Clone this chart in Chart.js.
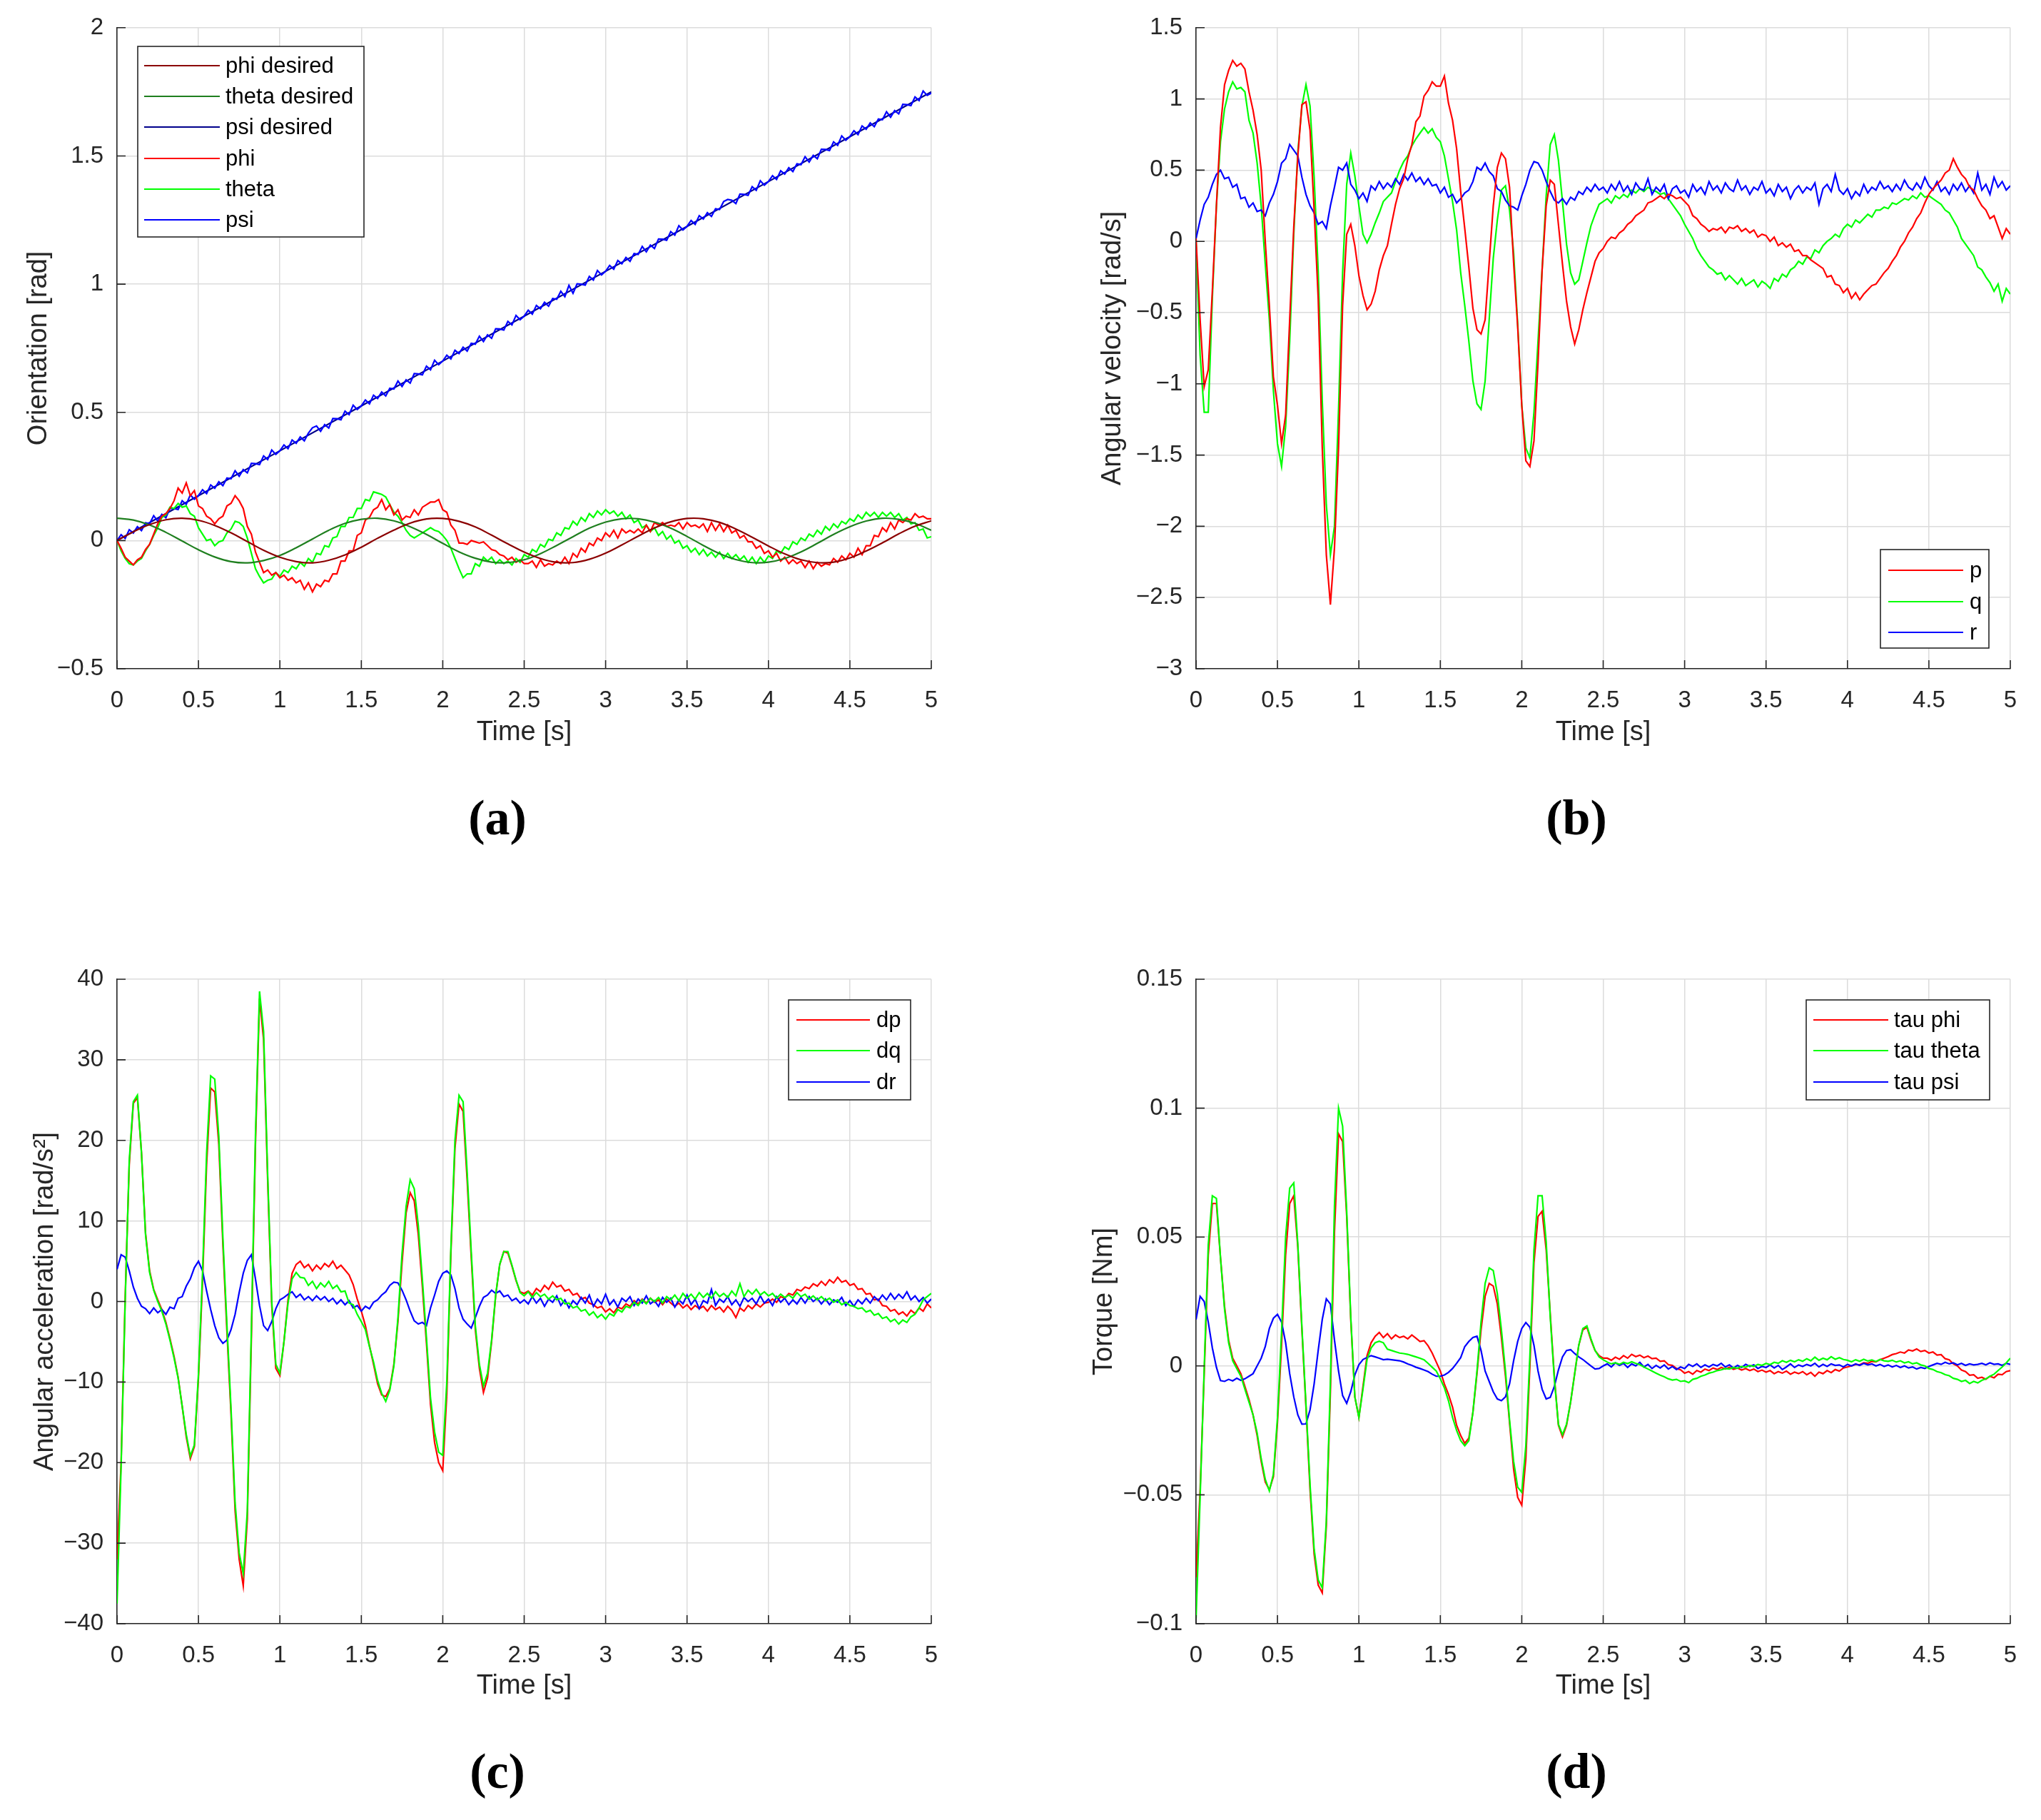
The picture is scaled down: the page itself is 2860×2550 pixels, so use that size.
<!DOCTYPE html>
<html>
<head>
<meta charset="utf-8">
<script src="https://cdn.jsdelivr.net/npm/chart.js@4.4.0/dist/chart.umd.min.js"></script>
<style>
  body { margin: 0; background: #fff; }
  #page { position: relative; width: 2860px; height: 2550px; background: #fff; overflow: hidden; }
  canvas { position: absolute; }
  .sub { position: absolute; transform: translate(-50%, -50%); font: bold 70px "Liberation Serif", serif; line-height: 1; color: #000; }
</style>
</head>
<body>
<div id="page">
  <canvas id="chartA" width="1430" height="1053" style="left:0px;top:0px"></canvas>
  <canvas id="chartB" width="1430" height="1053" style="left:1430px;top:0px"></canvas>
  <canvas id="chartC" width="1430" height="1114" style="left:0px;top:1275px"></canvas>
  <canvas id="chartD" width="1430" height="1114" style="left:1430px;top:1275px"></canvas>
  <div class="sub" style="left:697px;top:1146px">(a)</div>
  <div class="sub" style="left:2209px;top:1146px">(b)</div>
  <div class="sub" style="left:697px;top:2482px">(c)</div>
  <div class="sub" style="left:2209px;top:2482px">(d)</div>
</div>
<script>
// sampling of the logged signals [s]
const TIME_STEP = 0.025;
const DESIRED_STEP = 0.1;
const PSI_DESIRED_STEP = 0.5;

//-------------
//- (a) ORIENTATION [rad] -
//-------------
const phiDesired = [
  0, 0.034, 0.062, 0.081, 0.087, 0.079, 0.059, 0.030, -0.004, -0.038, -0.065,
  -0.082, -0.087, -0.077, -0.056, -0.026, 0.009, 0.041, 0.068, 0.084, 0.086,
  0.075, 0.053, 0.021, -0.013, -0.045, -0.070, -0.085, -0.086, -0.073, -0.049,
  -0.017, 0.017, 0.049, 0.073, 0.086, 0.085, 0.071, 0.045, 0.013, -0.021,
  -0.052, -0.075, -0.086, -0.084, -0.068, -0.041, -0.009, 0.026, 0.056, 0.077
];
const thetaDesired = [
  0.087, 0.080, 0.061, 0.032, -0.002, -0.036, -0.064, -0.082, -0.087, -0.078, -0.058,
  -0.028, 0.006, 0.040, 0.067, 0.083, 0.087, 0.077, 0.054, 0.024, -0.011,
  -0.044, -0.069, -0.084, -0.086, -0.075, -0.051, -0.019, 0.015, 0.048, 0.072,
  0.085, 0.085, 0.072, 0.048, 0.016, -0.019, -0.051, -0.074, -0.086, -0.084,
  -0.070, -0.044, -0.011, 0.024, 0.054, 0.076, 0.087, 0.083, 0.067, 0.040
];
const psiDesired = [0, 0.175, 0.35, 0.525, 0.7, 0.875, 1.05, 1.225, 1.4, 1.575, 1.75];

const phi = [
  0.00, -0.03, -0.065, -0.08, -0.095, -0.075, -0.065, -0.035, -0.015, 0.025,
  0.065, 0.095, 0.105, 0.125, 0.155, 0.205, 0.185, 0.225, 0.175, 0.195,
  0.135, 0.125, 0.095, 0.085, 0.065, 0.085, 0.095, 0.135, 0.145, 0.175,
  0.155, 0.125, 0.055, 0.025, -0.045, -0.085, -0.125, -0.115, -0.135, -0.125,
  -0.145, -0.135, -0.155, -0.145, -0.165, -0.155, -0.19, -0.165, -0.20, -0.17,
  -0.18, -0.155, -0.16, -0.13, -0.13, -0.08, -0.08, -0.04, -0.04, 0.02,
  0.03, 0.08, 0.09, 0.12, 0.13, 0.16, 0.12, 0.14, 0.10, 0.12,
  0.08, 0.095, 0.09, 0.12, 0.10, 0.13, 0.14, 0.15, 0.15, 0.16,
  0.12, 0.11, 0.06, 0.04, -0.01, -0.01, -0.015, 0.00, -0.005, -0.01,
  -0.005, -0.02, -0.035, -0.04, -0.055, -0.06, -0.075, -0.065, -0.085, -0.075,
  -0.09, -0.09, -0.08, -0.105, -0.075, -0.10, -0.09, -0.095, -0.08, -0.09,
  -0.065, -0.09, -0.05, -0.065, -0.03, -0.045, -0.01, -0.02, 0.01, 0.00,
  0.03, 0.015, 0.04, 0.01, 0.045, 0.03, 0.04, 0.03, 0.045, 0.03,
  0.06, 0.035, 0.07, 0.06, 0.07, 0.055, 0.06, 0.055, 0.07, 0.045,
  0.07, 0.055, 0.06, 0.05, 0.065, 0.035, 0.07, 0.04, 0.065, 0.035,
  0.06, 0.03, 0.04, 0.01, 0.02, -0.005, -0.005, -0.03, -0.02, -0.05,
  -0.04, -0.065, -0.05, -0.08, -0.065, -0.09, -0.075, -0.09, -0.08, -0.105,
  -0.08, -0.11, -0.085, -0.10, -0.09, -0.095, -0.07, -0.085, -0.06, -0.075,
  -0.05, -0.065, -0.03, -0.055, -0.02, -0.02, 0.02, 0.015, 0.05, 0.035,
  0.07, 0.045, 0.08, 0.07, 0.085, 0.08, 0.105, 0.09, 0.095, 0.085,
  0.085
];
const theta = [
  0.00, -0.04, -0.07, -0.09, -0.095, -0.08, -0.07, -0.04, -0.015, 0.02,
  0.05, 0.09, 0.10, 0.13, 0.125, 0.145, 0.13, 0.135, 0.105, 0.095,
  0.05, 0.025, 0.00, 0.005, -0.02, -0.005, 0.00, 0.03, 0.045, 0.075,
  0.07, 0.055, 0.01, -0.05, -0.11, -0.14, -0.165, -0.155, -0.15, -0.125,
  -0.14, -0.115, -0.125, -0.10, -0.11, -0.085, -0.10, -0.07, -0.085, -0.05,
  -0.055, -0.02, -0.025, 0.01, 0.015, 0.055, 0.055, 0.09, 0.09, 0.125,
  0.125, 0.16, 0.155, 0.19, 0.185, 0.18, 0.17, 0.14, 0.11, 0.095,
  0.07, 0.04, 0.02, 0.01, 0.02, 0.03, 0.04, 0.05, 0.04, 0.035,
  0.02, 0.00, -0.03, -0.07, -0.11, -0.145, -0.13, -0.13, -0.09, -0.10,
  -0.065, -0.08, -0.065, -0.09, -0.075, -0.09, -0.08, -0.095, -0.07, -0.085,
  -0.055, -0.065, -0.035, -0.045, -0.015, -0.025, 0.005, 0.00, 0.03, 0.02,
  0.05, 0.045, 0.075, 0.06, 0.09, 0.075, 0.105, 0.09, 0.115, 0.10,
  0.12, 0.105, 0.115, 0.095, 0.11, 0.085, 0.10, 0.07, 0.08, 0.05,
  0.06, 0.035, 0.05, 0.02, 0.035, 0.005, 0.02, -0.01, 0.00, -0.03,
  -0.02, -0.045, -0.03, -0.055, -0.035, -0.06, -0.045, -0.065, -0.045, -0.07,
  -0.05, -0.07, -0.055, -0.075, -0.06, -0.085, -0.065, -0.09, -0.065, -0.085,
  -0.06, -0.07, -0.04, -0.05, -0.025, -0.035, -0.005, -0.015, 0.01, 0.00,
  0.025, 0.015, 0.04, 0.025, 0.055, 0.04, 0.065, 0.05, 0.075, 0.065,
  0.085, 0.075, 0.10, 0.085, 0.11, 0.095, 0.11, 0.09, 0.11, 0.095,
  0.11, 0.09, 0.105, 0.08, 0.09, 0.065, 0.07, 0.04, 0.045, 0.01,
  0.015
];
const psi = [
  0.000, 0.023, 0.008, 0.042, 0.029, 0.054, 0.039, 0.069, 0.066, 0.097,
  0.076, 0.102, 0.089, 0.126, 0.125, 0.121, 0.155, 0.141, 0.178, 0.161,
  0.175, 0.198, 0.183, 0.217, 0.204, 0.229, 0.214, 0.244, 0.241, 0.272,
  0.251, 0.277, 0.264, 0.301, 0.300, 0.296, 0.330, 0.316, 0.353, 0.336,
  0.350, 0.373, 0.358, 0.392, 0.379, 0.404, 0.389, 0.419, 0.440, 0.447,
  0.426, 0.452, 0.439, 0.476, 0.475, 0.471, 0.505, 0.491, 0.528, 0.511,
  0.525, 0.548, 0.533, 0.567, 0.554, 0.579, 0.564, 0.594, 0.591, 0.622,
  0.601, 0.627, 0.614, 0.651, 0.650, 0.646, 0.680, 0.666, 0.703, 0.686,
  0.700, 0.723, 0.708, 0.742, 0.729, 0.754, 0.739, 0.769, 0.766, 0.797,
  0.776, 0.802, 0.789, 0.826, 0.825, 0.821, 0.855, 0.841, 0.878, 0.861,
  0.875, 0.898, 0.883, 0.917, 0.904, 0.929, 0.914, 0.944, 0.941, 0.972,
  0.951, 0.995, 0.964, 1.001, 1.000, 0.996, 1.030, 1.016, 1.053, 1.036,
  1.050, 1.073, 1.058, 1.092, 1.079, 1.104, 1.089, 1.119, 1.116, 1.147,
  1.126, 1.152, 1.139, 1.176, 1.175, 1.171, 1.205, 1.191, 1.228, 1.211,
  1.225, 1.248, 1.233, 1.267, 1.254, 1.279, 1.264, 1.294, 1.291, 1.322,
  1.330, 1.327, 1.314, 1.351, 1.350, 1.346, 1.380, 1.366, 1.403, 1.386,
  1.400, 1.423, 1.408, 1.442, 1.429, 1.454, 1.439, 1.469, 1.466, 1.497,
  1.476, 1.502, 1.489, 1.526, 1.525, 1.521, 1.555, 1.541, 1.578, 1.561,
  1.575, 1.598, 1.583, 1.617, 1.604, 1.629, 1.614, 1.644, 1.641, 1.672,
  1.651, 1.677, 1.664, 1.701, 1.700, 1.696, 1.730, 1.716, 1.753, 1.736,
  1.745
];

//-------------
//- (b) ANGULAR VELOCITY [rad/s] -
//-------------
const rateP = [
  0.02, -0.55, -1.02, -0.90, -0.35, 0.25, 0.80, 1.10, 1.20, 1.27,
  1.23, 1.25, 1.21, 1.05, 0.92, 0.75, 0.50, 0.00, -0.45, -0.95,
  -1.15, -1.42, -1.22, -0.55, 0.10, 0.60, 0.96, 0.98, 0.78, 0.22,
  -0.40, -1.45, -2.20, -2.55, -2.15, -1.45, -0.45, 0.05, 0.12, -0.03,
  -0.24, -0.38, -0.48, -0.44, -0.35, -0.20, -0.10, -0.03, 0.12, 0.26,
  0.37, 0.44, 0.58, 0.68, 0.84, 0.88, 1.02, 1.06, 1.12, 1.09,
  1.09, 1.16, 0.97, 0.85, 0.65, 0.35, 0.09, -0.18, -0.47, -0.62,
  -0.65, -0.55, -0.15, 0.25, 0.52, 0.62, 0.58, 0.38, -0.15, -0.60,
  -1.15, -1.54, -1.58, -1.40, -0.85, -0.20, 0.25, 0.43, 0.40, 0.12,
  -0.16, -0.42, -0.60, -0.72, -0.62, -0.48, -0.36, -0.25, -0.14, -0.08,
  -0.05, 0.00, 0.03, 0.02, 0.06, 0.08, 0.12, 0.14, 0.18, 0.20,
  0.22, 0.27, 0.28, 0.30, 0.32, 0.30, 0.33, 0.32, 0.30, 0.31,
  0.28, 0.25, 0.18, 0.16, 0.12, 0.10, 0.07, 0.09, 0.08, 0.10,
  0.06, 0.10, 0.09, 0.11, 0.07, 0.09, 0.06, 0.08, 0.03, 0.05,
  0.04, 0.00, 0.03, -0.03, -0.01, -0.04, -0.02, -0.07, -0.06, -0.10,
  -0.10, -0.13, -0.15, -0.17, -0.19, -0.25, -0.24, -0.30, -0.31, -0.36,
  -0.33, -0.40, -0.36, -0.41, -0.37, -0.34, -0.31, -0.30, -0.26, -0.22,
  -0.19, -0.14, -0.10, -0.04, 0.00, 0.06, 0.10, 0.16, 0.20, 0.27,
  0.33, 0.37, 0.40, 0.43, 0.48, 0.50, 0.58, 0.52, 0.47, 0.44,
  0.38, 0.36, 0.30, 0.25, 0.22, 0.16, 0.18, 0.10, 0.02, 0.09,
  0.05
];
const rateQ = [
  0.00, -0.80, -1.20, -1.20, -0.40, 0.25, 0.70, 0.93, 1.05, 1.12,
  1.07, 1.08, 1.05, 0.85, 0.76, 0.55, 0.25, -0.16, -0.55, -1.05,
  -1.42, -1.58, -1.30, -0.70, 0.05, 0.63, 0.95, 1.10, 0.95, 0.45,
  -0.21, -1.12, -1.85, -2.20, -2.00, -1.18, -0.22, 0.40, 0.62, 0.46,
  0.25, 0.05, -0.01, 0.05, 0.13, 0.20, 0.28, 0.31, 0.34, 0.42,
  0.50, 0.56, 0.60, 0.67, 0.72, 0.76, 0.80, 0.76, 0.79, 0.73,
  0.70, 0.60, 0.44, 0.28, 0.08, -0.22, -0.45, -0.70, -0.98, -1.14,
  -1.18, -0.98, -0.55, -0.12, 0.15, 0.36, 0.39, 0.22, -0.08, -0.58,
  -1.15, -1.45, -1.52, -1.20, -0.70, -0.20, 0.32, 0.68, 0.75, 0.57,
  0.28, -0.02, -0.22, -0.30, -0.27, -0.14, -0.01, 0.11, 0.19, 0.26,
  0.28, 0.30, 0.27, 0.32, 0.30, 0.33, 0.31, 0.36, 0.34, 0.37,
  0.35, 0.38, 0.36, 0.35, 0.33, 0.34, 0.30, 0.26, 0.22, 0.18,
  0.12, 0.07, 0.02, -0.05, -0.10, -0.14, -0.18, -0.20, -0.23, -0.22,
  -0.27, -0.24, -0.27, -0.30, -0.26, -0.31, -0.29, -0.27, -0.32, -0.28,
  -0.30, -0.33, -0.26, -0.28, -0.23, -0.25, -0.20, -0.18, -0.14, -0.16,
  -0.11, -0.12, -0.06, -0.08, -0.03, 0.00, 0.02, 0.05, 0.03, 0.09,
  0.12, 0.10, 0.15, 0.13, 0.16, 0.19, 0.17, 0.22, 0.22, 0.24,
  0.23, 0.27, 0.26, 0.28, 0.30, 0.29, 0.32, 0.30, 0.34, 0.31,
  0.32, 0.30, 0.28, 0.26, 0.22, 0.20, 0.15, 0.10, 0.02, -0.02,
  -0.06, -0.10, -0.18, -0.20, -0.25, -0.29, -0.35, -0.30, -0.42, -0.33,
  -0.37
];
const rateR = [
  0.02, 0.15, 0.26, 0.31, 0.40, 0.47, 0.50, 0.44, 0.45, 0.38,
  0.40, 0.30, 0.31, 0.24, 0.27, 0.21, 0.22, 0.18, 0.27, 0.33,
  0.42, 0.55, 0.58, 0.68, 0.64, 0.60, 0.45, 0.33, 0.25, 0.20,
  0.12, 0.14, 0.09, 0.25, 0.38, 0.52, 0.50, 0.55, 0.40, 0.36,
  0.30, 0.34, 0.28, 0.39, 0.36, 0.42, 0.37, 0.41, 0.38, 0.44,
  0.40, 0.47, 0.43, 0.48, 0.42, 0.45, 0.40, 0.44, 0.39, 0.40,
  0.34, 0.38, 0.31, 0.33, 0.27, 0.30, 0.34, 0.36, 0.42, 0.52,
  0.50, 0.55, 0.49, 0.46, 0.37, 0.35, 0.29, 0.25, 0.24, 0.22,
  0.32, 0.40, 0.50, 0.56, 0.55, 0.50, 0.42, 0.35, 0.29, 0.27,
  0.30, 0.26, 0.31, 0.29, 0.35, 0.33, 0.38, 0.35, 0.40, 0.36,
  0.38, 0.34, 0.40, 0.36, 0.42, 0.35, 0.39, 0.33, 0.41, 0.37,
  0.36, 0.44, 0.33, 0.38, 0.35, 0.40, 0.30, 0.37, 0.39, 0.34,
  0.36, 0.31, 0.40, 0.35, 0.38, 0.33, 0.42, 0.36, 0.39, 0.34,
  0.41, 0.37, 0.35, 0.43, 0.36, 0.39, 0.33, 0.38, 0.36, 0.42,
  0.34, 0.37, 0.32, 0.40, 0.35, 0.38, 0.30, 0.36, 0.39, 0.34,
  0.38, 0.36, 0.41, 0.26, 0.37, 0.40, 0.35, 0.47, 0.36, 0.33,
  0.37, 0.30, 0.35, 0.32, 0.40, 0.34, 0.38, 0.36, 0.42, 0.37,
  0.39, 0.35, 0.40, 0.36, 0.43, 0.38, 0.36, 0.41, 0.37, 0.45,
  0.39, 0.36, 0.42, 0.35, 0.38, 0.33, 0.40, 0.36, 0.41, 0.35,
  0.39, 0.34, 0.48, 0.36, 0.40, 0.33, 0.45, 0.38, 0.42, 0.36,
  0.39
];

//-------------
//- (c) ANGULAR ACCELERATION [rad/s2] -
//-------------
const accP = [
  -32.0, -20.0, 0.5, 17.0, 24.6, 25.3, 18.5, 8.5, 3.8, 1.5,
  0.2, -1.0, -2.6, -4.6, -6.8, -9.4, -13.0, -16.8, -19.5, -18.0,
  -9.5, 2.5, 17.0, 26.5, 26.0, 19.5, 7.0, -3.8, -14.0, -26.0,
  -32.0, -35.3, -27.0, -4.5, 19.5, 37.6, 32.5, 15.0, -0.5, -8.3,
  -9.2, -5.0, 0.2, 3.5, 4.6, 5.0, 4.2, 4.6, 3.8, 4.5,
  4.0, 4.7, 4.3, 5.0, 4.1, 4.5, 3.9, 3.3, 2.1, 0.3,
  -1.2, -3.0, -5.5, -7.8, -10.2, -11.6, -11.8, -10.8, -7.8, -2.5,
  4.8, 11.0, 13.5, 12.5, 8.3, 1.8, -5.2, -12.8, -17.5, -20.0,
  -21.0, -11.5, 6.0, 19.0, 24.5, 23.6, 15.0, 5.5, -3.5, -8.3,
  -11.3, -9.5, -5.0, 0.7, 4.6, 6.2, 6.0, 4.4, 2.6, 1.2,
  1.0, 1.3, 0.8, 1.6, 1.2, 2.0, 1.5, 2.4, 1.8, 2.0,
  1.3, 1.5, 0.8, 1.0, 0.3, 0.5, -0.2, -0.4, -0.8, -0.6,
  -1.3, -0.9, -1.4, -0.7, -0.9, -0.3, -0.6, 0.1, -0.3, 0.3,
  -0.2, 0.4, -0.1, 0.2, -0.4, 0.3, -0.2, -0.6, -0.2, -0.8,
  -0.4, -1.0, -0.5, -0.9, -0.6, -1.2, -0.5, -1.0, -0.7, -1.3,
  -0.6, -1.1, -2.0, -0.8, -1.2, -0.5, -0.9, -0.3, -0.7, -0.2,
  -0.1, 0.3, -0.1, 0.6, 0.4, 1.0, 0.8, 1.5, 1.3, 1.8,
  1.6, 2.2, 1.9, 2.5, 2.0, 2.7, 2.3, 3.0, 2.4, 2.6,
  2.0, 2.2, 1.5, 1.6, 0.9, 1.0, 0.2, 0.3, -0.5, -0.6,
  -1.2, -1.0, -1.6, -1.3, -1.8, -1.1, -1.5, -0.8, -1.2, -0.3,
  -0.8
];
const accQ = [
  -37.5, -20.5, 0.0, 17.5, 24.8, 25.6, 18.5, 8.3, 3.6, 1.4,
  0.0, -1.2, -2.8, -4.8, -7.0, -9.5, -13.0, -16.5, -19.2, -17.8,
  -9.0, 3.5, 18.4, 28.0, 27.6, 20.5, 7.9, -3.0, -13.3, -25.0,
  -31.2, -33.8, -26.0, -3.3, 20.6, 38.5, 33.5, 15.7, 0.0, -7.8,
  -8.9, -5.0, -0.2, 2.8, 3.6, 3.0, 2.9, 2.0, 2.5, 1.6,
  2.3, 1.8, 2.5, 1.6, 2.0, 1.2, 1.3, -0.2, -0.4, -1.6,
  -2.5, -3.5, -5.6, -7.5, -9.8, -11.4, -12.4, -11.0, -8.0, -2.0,
  5.9, 11.8, 15.1, 14.0, 9.4, 2.7, -4.5, -12.0, -16.2, -18.7,
  -19.1, -10.0, 6.5, 20.0, 25.6, 24.8, 16.0, 6.2, -3.0, -7.8,
  -10.5, -8.9, -4.8, 0.8, 4.6, 6.2, 6.2, 4.5, 2.7, 1.1,
  0.7, 1.2, 0.5, 1.1, 0.6, 0.9, 0.3, 0.7, 0.2, 0.4,
  -0.3, -0.2, -0.8, -0.6, -1.2, -1.0, -1.7, -1.3, -2.0, -1.6,
  -2.2, -1.5, -1.8, -1.0, -1.3, -0.6, -0.8, -0.1, -0.5, 0.2,
  -0.3, 0.4, 0.0, 0.5, -0.2, 0.6, 0.2, 0.8, 0.1, 1.0,
  0.4, 0.9, 0.3, 1.1, 0.5, 1.0, 0.4, 1.2, 0.6, 1.0,
  0.5, 1.3, 0.7, 2.2, 0.6, 1.4, 0.9, 1.5, 0.8, 1.2,
  0.7, 1.0, 0.4, 0.9, 0.5, 0.8, 0.4, 1.1, 0.6, 0.9,
  0.3, 0.7, 0.2, 0.6, 0.1, 0.4, -0.1, 0.2, -0.4, -0.1,
  -0.5, -0.6, -0.9, -0.8, -1.3, -1.1, -1.7, -1.5, -2.1, -1.9,
  -2.5, -2.2, -2.8, -2.3, -2.6, -1.9, -1.6, -0.8, 0.2, 0.6,
  1.0
];
const accR = [
  4.0, 5.8, 5.5, 3.8, 1.8, 0.4, -0.6, -0.9, -1.5, -0.8,
  -1.4, -1.0, -1.6, -0.7, -0.9, 0.4, 0.6, 1.9, 2.8, 4.2,
  5.0, 3.8, 1.3, -1.0, -3.0, -4.5, -5.2, -4.8, -3.5, -1.6,
  1.1, 3.5, 5.1, 5.8, 2.8, -0.5, -3.0, -3.6, -2.5, -0.9,
  0.2, 0.5, 0.9, 1.2, 0.5, 0.9, 0.2, 0.6, 0.1, 0.7,
  0.2, 0.6, 0.0, 0.4, -0.3, 0.2, -0.4, 0.1, -0.8, -0.5,
  -1.2, -0.6, -0.9, -0.1, 0.2, 0.8, 1.2, 2.0, 2.4, 2.3,
  1.4, 0.2, -1.2, -2.4, -2.8, -2.6, -3.0, -0.8, 0.8, 2.5,
  3.5, 3.8, 3.3, 1.6, -0.8, -2.2, -2.8, -3.3, -2.0, -0.6,
  0.5, 0.8, 1.4, 1.0, 1.3, 0.6, 0.8, 0.1, 0.4, -0.2,
  0.2, -0.3, 0.6, -0.2, 0.4, -0.6, 0.3, -0.1, 0.7, -0.5,
  0.2, -0.8, 0.1, -0.4, 0.5, -0.2, 0.8, -0.6, 0.3, -0.3,
  0.9, -0.4, 0.2, -0.7, 0.4, 0.0, 0.6, -0.5, 0.3, -0.2,
  0.7, -0.3, 0.1, -0.6, 0.5, -0.1, 0.4, -0.7, 0.2, -0.3,
  0.8, -0.4, 0.3, -0.9, 0.1, -0.2, 1.5, -0.5, 0.3, -0.1,
  0.6, -0.4, 0.2, -0.6, 0.5, 0.0, 0.4, -0.3, 0.7, -0.2,
  0.3, -0.5, 0.6, -0.1, 0.4, -0.4, 0.2, -0.3, 0.5, -0.2,
  0.6, 0.0, 0.4, -0.3, 0.3, -0.4, 0.2, -0.1, 0.5, -0.5,
  0.1, -0.6, 0.2, -0.3, 0.4, -0.2, 0.6, 0.1, 0.8, 0.2,
  1.0, 0.3, 0.9, 0.4, 1.2, 0.2, 0.7, 0.0, 0.5, -0.2,
  0.3
];

//-------------
//- (d) TORQUE [Nm] -
//-------------
const tauPhi = [
  -0.082, -0.048, -0.003, 0.043, 0.063, 0.063, 0.042, 0.023, 0.010, 0.003,
  0.000, -0.003, -0.008, -0.013, -0.019, -0.027, -0.037, -0.045, -0.048, -0.043,
  -0.022, 0.008, 0.043, 0.063, 0.066, 0.046, 0.014, -0.016, -0.048, -0.073,
  -0.085, -0.088, -0.062, -0.010, 0.052, 0.090, 0.087, 0.058, 0.018, -0.012,
  -0.020, -0.008, 0.004, 0.009, 0.0115, 0.013, 0.011, 0.0125, 0.0105, 0.012,
  0.011, 0.0115, 0.0105, 0.012, 0.0108, 0.0095, 0.0098, 0.0078, 0.005, 0.0015,
  -0.002, -0.007, -0.011, -0.016, -0.023, -0.027, -0.030, -0.028, -0.018, -0.003,
  0.014, 0.027, 0.032, 0.031, 0.024, 0.011, -0.004, -0.022, -0.040, -0.051,
  -0.054, -0.036, 0.000, 0.040, 0.058, 0.060, 0.045, 0.020, -0.004, -0.023,
  -0.0275, -0.023, -0.014, -0.003, 0.008, 0.014, 0.015, 0.010, 0.006, 0.004,
  0.003, 0.0030, 0.0022, 0.0034, 0.0026, 0.0040, 0.0030, 0.0045, 0.0036, 0.0042,
  0.0032, 0.0038, 0.0028, 0.0030, 0.0018, 0.0020, 0.0005, 0.0002, -0.0010, -0.0015,
  -0.0028, -0.0022, -0.0032, -0.0018, -0.0024, -0.0012, -0.0018, -0.0008, -0.0014, -0.0006,
  -0.0012, -0.0005, -0.0013, -0.0008, -0.0016, -0.0010, -0.0018, -0.0012, -0.0022, -0.0016,
  -0.0024, -0.0018, -0.0030, -0.0022, -0.0028, -0.0020, -0.0032, -0.0024, -0.0030, -0.0022,
  -0.0034, -0.0025, -0.0040, -0.0024, -0.0030, -0.0018, -0.0026, -0.0014, -0.0020, -0.0008,
  -0.0004, 0.0000, 0.0006, 0.0004, 0.0012, 0.0010, 0.0018, 0.0016, 0.0024, 0.0030,
  0.0036, 0.0044, 0.0048, 0.0054, 0.0050, 0.0062, 0.0058, 0.0066, 0.0056, 0.0060,
  0.0050, 0.0054, 0.0042, 0.0044, 0.0028, 0.0024, 0.0008, 0.0000, -0.0016, -0.0022,
  -0.0036, -0.0034, -0.0048, -0.0044, -0.0052, -0.0040, -0.0046, -0.0032, -0.0034, -0.0022,
  -0.0018
];
const tauTheta = [
  -0.098, -0.051, -0.001, 0.047, 0.066, 0.065, 0.042, 0.022, 0.009, 0.002,
  -0.001, -0.004, -0.009, -0.014, -0.019, -0.026, -0.036, -0.044, -0.0485, -0.042,
  -0.020, 0.013, 0.050, 0.069, 0.071, 0.047, 0.015, -0.015, -0.046, -0.071,
  -0.083, -0.086, -0.060, -0.006, 0.062, 0.100, 0.093, 0.060, 0.019, -0.012,
  -0.020, -0.009, 0.0025, 0.007, 0.009, 0.0096, 0.009, 0.0065, 0.006, 0.0055,
  0.005, 0.0048, 0.0045, 0.004, 0.0035, 0.003, 0.0024, 0.001, -0.0005, -0.002,
  -0.005, -0.0085, -0.0135, -0.020, -0.025, -0.029, -0.031, -0.029, -0.018, -0.002,
  0.017, 0.032, 0.038, 0.037, 0.028, 0.014, -0.002, -0.021, -0.037, -0.047,
  -0.049, -0.031, 0.004, 0.045, 0.066, 0.066, 0.048, 0.019, -0.005, -0.0226,
  -0.0267, -0.0226, -0.014, -0.003, 0.008, 0.0145, 0.0155, 0.0105, 0.006, 0.0035,
  0.0024, 0.0015, 0.0008, 0.0012, 0.0006, 0.0014, 0.0009, 0.0016, 0.0010, 0.0005,
  -0.0004, -0.0012, -0.0020, -0.0028, -0.0036, -0.0042, -0.0050, -0.0055, -0.0052, -0.0060,
  -0.0058, -0.0065, -0.0052, -0.0048, -0.0040, -0.0035, -0.0028, -0.0024, -0.0018, -0.0015,
  -0.0010, -0.0012, -0.0006, -0.0009, -0.0002, -0.0005, 0.0002, -0.0002, 0.0006, 0.0002,
  0.0010, 0.0005, 0.0014, 0.0010, 0.0020, 0.0014, 0.0022, 0.0016, 0.0024, 0.0018,
  0.0028, 0.0020, 0.0034, 0.0022, 0.0030, 0.0024, 0.0036, 0.0026, 0.0032, 0.0025,
  0.0022, 0.0016, 0.0024, 0.0018, 0.0026, 0.0019, 0.0023, 0.0017, 0.0025, 0.0020,
  0.0018, 0.0022, 0.0015, 0.0020, 0.0012, 0.0016, 0.0008, 0.0012, 0.0004, 0.0000,
  -0.0010, -0.0014, -0.0022, -0.0026, -0.0034, -0.0038, -0.0048, -0.0052, -0.0060, -0.0056,
  -0.0068, -0.0060, -0.0066, -0.0056, -0.0050, -0.0040, -0.0032, -0.0018, -0.0004, 0.0012,
  0.0030
];
const tauPsi = [
  0.018, 0.027, 0.025, 0.017, 0.007, -0.0005, -0.0057, -0.006, -0.0052, -0.0058,
  -0.0048, -0.0056, -0.005, -0.004, -0.003, 0.000, 0.003, 0.0075, 0.0145, 0.0185,
  0.020, 0.017, 0.009, -0.003, -0.012, -0.019, -0.0226, -0.0225, -0.017, -0.007,
  0.006, 0.018, 0.026, 0.024, 0.010, -0.002, -0.0115, -0.0145, -0.010, -0.0035,
  0.0005, 0.0025, 0.0033, 0.004, 0.0035, 0.003, 0.0024, 0.0026, 0.0024, 0.0022,
  0.002, 0.0015, 0.0008, 0.0002, -0.0005, -0.001, -0.0016, -0.0022, -0.0032, -0.004,
  -0.004, -0.0035, -0.0025, -0.001, 0.001, 0.0032, 0.0075, 0.0095, 0.011, 0.0115,
  0.006, -0.002, -0.006, -0.010, -0.0128, -0.0135, -0.012, -0.007, 0.002, 0.0095,
  0.0145, 0.0168, 0.015, 0.008, -0.002, -0.009, -0.0128, -0.0122, -0.008, -0.0016,
  0.0035, 0.006, 0.0063, 0.0048, 0.0035, 0.0025, 0.0012, 0.000, -0.0012, -0.001,
  0.0000, 0.0008, -0.0004, 0.0012, 0.0002, 0.0010, -0.0006, 0.0008, 0.0000, 0.0014,
  -0.0004, 0.0006, -0.0010, 0.0002, -0.0008, 0.0004, -0.0012, -0.0002, -0.0014, -0.0004,
  -0.0010, 0.0006, -0.0002, 0.0008, -0.0006, 0.0004, -0.0004, 0.0006, 0.0000, 0.0010,
  -0.0004, 0.0004, -0.0008, 0.0002, -0.0006, 0.0006, -0.0002, 0.0004, -0.0010, -0.0002,
  -0.0006, 0.0004, -0.0008, 0.0002, -0.0014, -0.0004, 0.0008, -0.0006, 0.0004, -0.0002,
  0.0006, 0.0000, 0.0010, -0.0004, 0.0006, -0.0002, 0.0008, 0.0002, 0.0004, -0.0004,
  0.0006, 0.0000, 0.0008, 0.0002, 0.0010, 0.0004, 0.0008, 0.0000, 0.0006, -0.0002,
  0.0004, -0.0004, 0.0002, -0.0006, 0.0000, -0.0008, -0.0004, -0.0012, -0.0006, -0.0010,
  -0.0002, 0.0004, 0.0010, 0.0006, 0.0014, 0.0008, 0.0012, 0.0004, 0.0010, 0.0002,
  0.0008, 0.0004, 0.0006, 0.0010, 0.0004, 0.0012, 0.0006, 0.0008, 0.0002, 0.0010,
  0.0006
];

//-------------
//- SHARED LOOK -
//-------------
const FONT = 'Liberation Sans';
const INK = '#262626';

function line(label, values, step, color, order, smooth) {
  return {
    label: label,
    data: values.map(function (v, i) { return { x: Math.round(i * step * 10000) / 10000, y: v } }),
    borderColor: color,
    backgroundColor: color,
    borderWidth: 2.2,
    pointRadius: 0,
    fill: false,
    tension: smooth ? 0.4 : 0,
    order: order
  }
}

function fmt(v) {
  return String(Math.round(v * 1000) / 1000).replace('-', '\u2212')
}

// MATLAB style ticks pointing into the plot box
const innerTicks = {
  id: 'innerTicks',
  afterDraw: function (chart) {
    var ctx = chart.ctx, a = chart.chartArea, x = chart.scales.x, y = chart.scales.y
    ctx.save()
    ctx.strokeStyle = INK
    ctx.lineWidth = 1.6
    ctx.beginPath()
    x.ticks.forEach(function (t) {
      var px = x.getPixelForValue(t.value)
      ctx.moveTo(px, a.bottom); ctx.lineTo(px, a.bottom - 12)
    })
    y.ticks.forEach(function (t) {
      var py = y.getPixelForValue(t.value)
      ctx.moveTo(a.left, py); ctx.lineTo(a.left + 12, py)
    })
    ctx.stroke()
    ctx.restore()
  }
}

// boxed legend placed where the figure has it
const boxLegend = {
  id: 'boxLegend',
  afterDraw: function (chart, args, opts) {
    var ctx = chart.ctx, b = opts.box
    ctx.save()
    ctx.fillStyle = '#ffffff'
    ctx.fillRect(b[0], b[1], b[2] - b[0], b[3] - b[1])
    ctx.strokeStyle = INK
    ctx.lineWidth = 1.6
    ctx.strokeRect(b[0], b[1], b[2] - b[0], b[3] - b[1])
    ctx.font = '31px "' + FONT + '"'
    ctx.textBaseline = 'middle'
    ctx.textAlign = 'left'
    opts.items.forEach(function (di, i) {
      var ds = chart.data.datasets[di], ry = opts.rows[i]
      ctx.strokeStyle = ds.borderColor
      ctx.lineWidth = 2
      ctx.beginPath()
      ctx.moveTo(opts.line[0], ry); ctx.lineTo(opts.line[1], ry)
      ctx.stroke()
      ctx.fillStyle = '#000000'
      ctx.fillText(ds.label, opts.textX, ry + 1)
    })
    ctx.restore()
  }
}

function makeChart(id, cfg) {
  var tickFont = { family: FONT, size: 33 }
  var titleFont = { family: FONT, size: 38 }
  var grid = { color: '#dcdcdc', lineWidth: 1.5, drawTicks: false }
  var border = { color: INK, width: 1.6 }
  return new Chart(document.getElementById(id), {
    type: 'line',
    data: { datasets: cfg.datasets },
    options: {
      responsive: false,
      devicePixelRatio: 1,
      animation: false,
      events: [],
      layout: { padding: cfg.padding },
      plugins: {
        legend: { display: false },
        tooltip: { enabled: false },
        boxLegend: cfg.legend
      },
      scales: {
        x: {
          type: 'linear', min: 0, max: 5,
          ticks: { stepSize: 0.5, padding: 25, color: INK, font: tickFont, maxRotation: 0, autoSkip: false, callback: fmt },
          grid: grid, border: border,
          title: { display: true, text: 'Time [s]', color: INK, font: titleFont, padding: { top: 4, bottom: 4 } },
          afterFit: function (s) { s.height = cfg.xHeight }
        },
        y: {
          type: 'linear', min: cfg.yMin, max: cfg.yMax,
          ticks: { stepSize: cfg.yStep, padding: 19, color: INK, font: tickFont, autoSkip: false, callback: fmt },
          grid: grid, border: border,
          title: { display: true, text: cfg.yLabel, color: INK, font: titleFont, padding: { top: 4, bottom: 4 } },
          afterFit: function (s) { s.width = cfg.yWidth }
        }
      }
    },
    plugins: [innerTicks, boxLegend]
  })
}

var chartA = makeChart('chartA', {
  yMin: -0.5, yMax: 2, yStep: 0.5, yLabel: 'Orientation [rad]',
  padding: { left: 28, right: 125, top: 36, bottom: 0 }, yWidth: 136, xHeight: 116,
  legend: { box: [193, 65, 510, 332], rows: [92, 135, 178, 222, 265, 308], line: [202, 308], textX: 316, items: [0, 1, 2, 3, 4, 5] },
  datasets: [
    line('phi desired', phiDesired, DESIRED_STEP, '#8b0000', 0, true),
    line('theta desired', thetaDesired, DESIRED_STEP, '#1f7f1f', 0, true),
    line('psi desired', psiDesired, PSI_DESIRED_STEP, '#00008b', 2, false),
    line('phi', phi, TIME_STEP, '#ff0000', 1, false),
    line('theta', theta, TIME_STEP, '#00ff00', 1, false),
    line('psi', psi, TIME_STEP, '#0000ff', 1, false)
  ]
})

var chartB = makeChart('chartB', {
  yMin: -3, yMax: 1.5, yStep: 0.5, yLabel: 'Angular velocity [rad/s]',
  padding: { left: 103, right: 43, top: 36, bottom: 0 }, yWidth: 143, xHeight: 116,
  legend: { box: [1205, 770, 1357, 908], rows: [799, 843, 886], line: [1216, 1321], textX: 1330, items: [0, 1, 2] },
  datasets: [
    line('p', rateP, TIME_STEP, '#ff0000', 0, false),
    line('q', rateQ, TIME_STEP, '#00ff00', 1, false),
    line('r', rateR, TIME_STEP, '#0000ff', 0, false)
  ]
})

var chartC = makeChart('chartC', {
  yMin: -40, yMax: 40, yStep: 10, yLabel: 'Angular acceleration [rad/s\u00b2]',
  padding: { left: 37, right: 125, top: 97, bottom: 0 }, yWidth: 127, xHeight: 114,
  legend: { box: [1105, 126, 1276, 266], rows: [154, 197, 241], line: [1116, 1219], textX: 1228, items: [0, 1, 2] },
  datasets: [
    line('dp', accP, TIME_STEP, '#ff0000', 1, false),
    line('dq', accQ, TIME_STEP, '#00ff00', 0, false),
    line('dr', accR, TIME_STEP, '#0000ff', 0, false)
  ]
})

var chartD = makeChart('chartD', {
  yMin: -0.1, yMax: 0.15, yStep: 0.05, yLabel: 'Torque [Nm]',
  padding: { left: 91, right: 43, top: 97, bottom: 0 }, yWidth: 155, xHeight: 114,
  legend: { box: [1101, 126, 1358, 266], rows: [154, 197, 241], line: [1111, 1216], textX: 1224, items: [0, 1, 2] },
  datasets: [
    line('tau phi', tauPhi, TIME_STEP, '#ff0000', 1, false),
    line('tau theta', tauTheta, TIME_STEP, '#00ff00', 0, false),
    line('tau psi', tauPsi, TIME_STEP, '#0000ff', 0, false)
  ]
})
</script>
</body>
</html>
